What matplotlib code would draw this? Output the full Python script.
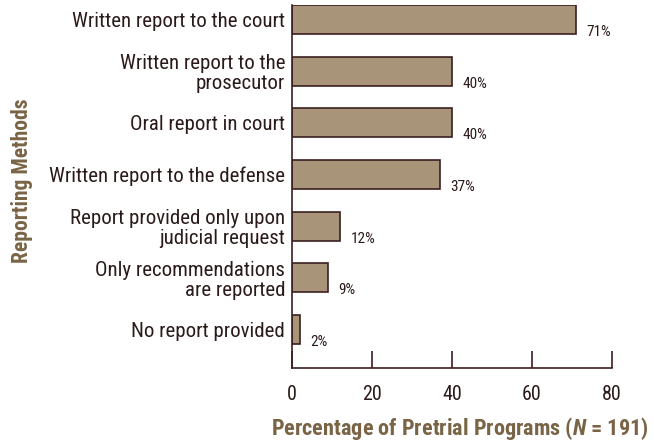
import matplotlib.pyplot as plt

categories = [
    'Written report to the court',
    'Written report to the\nprosecutor',
    'Oral report in court',
    'Written report to the defense',
    'Report provided only upon\njudicial request',
    'Only recommendations\nare reported',
    'No report provided',
]
percents = [71, 40, 40, 37, 12, 9, 2]
x_ticks = [0, 20, 40, 60, 80]

plt.rcParams['font.family'] = ['Roboto Condensed', 'DejaVu Sans']
plt.rcParams['mathtext.fontset'] = 'custom'
plt.rcParams['mathtext.it'] = 'Roboto Condensed:italic:bold'
text_color = '#2b1a1a'
title_color = '#7a6446'

fig = plt.figure(figsize=(6.54, 4.45), dpi=100)
ax = fig.add_axes([292 / 654, 1 - 368 / 445, 320 / 654, 363 / 445])

pos = list(range(len(categories)))
ax.barh(pos, percents, height=0.56, color='#a89579', edgecolor='#3a1f1f', linewidth=1.2)

# value labels sit to the right, slightly below the bar centre
for y, v in zip(pos, percents):
    ax.text(v + 2.6, y + 0.24, f'{v}%', va='center', ha='left', fontsize=11, color=text_color)

ax.set_ylim(6.745, -0.28)
ax.set_xlim(0, 80)
ax.set_yticks(pos)
ax.set_yticklabels(categories, fontsize=15, color=text_color, linespacing=1.05)
ax.tick_params(axis='y', length=0, pad=5)
ax.set_xticks(x_ticks)
ax.set_xticklabels([str(t) for t in x_ticks], fontsize=14.5, color=text_color)
ax.tick_params(axis='x', direction='in', length=12, width=1.2, color='#3a1f1f', pad=12)

for s in ['top', 'right']:
    ax.spines[s].set_visible(False)
for s in ['left', 'bottom']:
    ax.spines[s].set_color('#3a1f1f')
    ax.spines[s].set_linewidth(1.2)

fig.text(460 / 654, 1 - 428 / 445, 'Percentage of Pretrial Programs ($N$ = 191)',
         ha='center', va='center', fontsize=16, fontweight='bold', color=title_color)
fig.text(22 / 654, 1 - 181 / 445, 'Reporting Methods', rotation=90, ha='center', va='center',
         fontsize=15.5, fontweight='bold', color=title_color)

fig.savefig('out.png', dpi=100)
